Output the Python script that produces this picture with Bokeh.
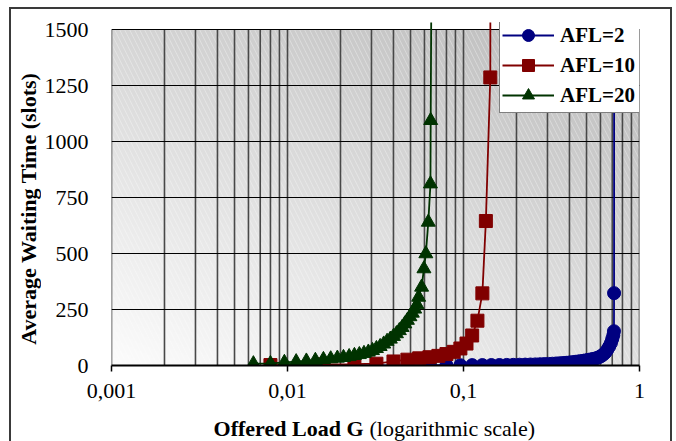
import json
import numpy as np
from bokeh.plotting import figure
from bokeh.layouts import column, row
from bokeh.models import (Range1d, FixedTicker, Legend, LegendItem,
                          CustomJSTickFormatter)
from bokeh.core.properties import value
from bokeh.embed import file_html
from bokeh.resources import INLINE

# ---------------- data ----------------
series_names = ["AFL=2", "AFL=10", "AFL=20"]

afl2_g = [0.016, 0.032, 0.048, 0.064, 0.080, 0.096, 0.112, 0.128, 0.144, 0.160,
          0.176, 0.192, 0.208, 0.224, 0.240, 0.256, 0.272, 0.288, 0.304, 0.320,
          0.336, 0.352, 0.368, 0.384, 0.400, 0.416, 0.432, 0.448, 0.464, 0.480,
          0.496, 0.512, 0.528, 0.544, 0.560, 0.576, 0.592, 0.608, 0.624, 0.640,
          0.656, 0.672, 0.688, 0.700, 0.710, 0.716, 0.717, 0.7175]
afl2_w = [0.3, 0.6, 0.9, 1.1, 1.3, 1.5, 1.7, 1.9, 2.1, 2.3,
          2.6, 3.0, 3.5, 4.0, 4.5, 5.0, 5.7, 6.4, 7.2, 8.0,
          9, 10, 11, 12, 13.5, 15, 16.5, 18, 19.5, 21,
          23, 25, 27, 29, 31, 34, 38, 43, 50, 58,
          70, 84, 100, 118, 135, 153, 323, 2600]

afl10_g = [0.008, 0.016, 0.024, 0.032, 0.040, 0.048, 0.056, 0.064, 0.072, 0.080,
           0.088, 0.096, 0.104, 0.112, 0.120, 0.128, 0.134, 0.142, 0.1425]
afl10_w = [2, 5, 6, 8, 18, 26, 32, 37, 43, 51,
           61, 76, 98, 134, 200, 322, 645, 1286, 2600]

afl20_g = [0.0064, 0.0080, 0.0096, 0.0112, 0.0128, 0.0144, 0.0160, 0.0176, 0.0192, 0.0208,
           0.0224, 0.0240, 0.0256, 0.0272, 0.0288, 0.0304, 0.0320, 0.0336, 0.0352, 0.0368,
           0.0384, 0.0400, 0.0416, 0.0432, 0.0448, 0.0464, 0.0480, 0.0496, 0.0512, 0.0528,
           0.0544, 0.0556, 0.0578, 0.0596, 0.0611, 0.0631, 0.0649, 0.0651, 0.0662]
afl20_w = [8, 9, 14, 17, 20, 23, 27, 30, 33, 36,
           40, 45, 49, 54, 60, 67, 76, 85, 96, 108,
           118, 130, 142, 156, 170, 186, 202, 218, 234, 252,
           272, 305, 350, 432, 499, 640, 811, 1094, 2200]

x_ticks = [0.001, 0.01, 0.1, 1]
x_tick_labels = ["0,001", "0,01", "0,1", "1"]
y_ticks = [0, 250, 500, 750, 1000, 1250, 1500]

x_title_bold = "Offered Load G"
x_title_normal = "(logarithmic scale)"
y_title = "Average Waiting Time (slots)"

# ---------------- styling constants ----------------
X_MIN, X_MAX = 0.001, 1.0
Y_MAX = 1500
Y_TOP = 1531.25          # lines run slightly past the 1500 line
SERIF = "Liberation Serif"
colors = ["#000080", "#800000", "#003300"]
markers = ["circle", "square", "triangle"]
msizes = [13, 13, 14]

MAIN_H = 402
YT_W = 30
XT_H = 30
TOTAL_W = 659

# ---------------- main chart ----------------
p = figure(width=TOTAL_W - YT_W, height=MAIN_H, x_axis_type="log",
           x_range=Range1d(X_MIN, X_MAX), y_range=Range1d(0, Y_TOP),
           output_backend="svg", toolbar_location=None,
           min_border_left=68, min_border_right=31, min_border_top=13,
           min_border_bottom=46, background_fill_color="white",
           border_fill_color="white", outline_line_color=None)

# gradient plot-area background
nx, ny = 240, 160
u = np.linspace(0, 1, nx)[None, :]
v = np.linspace(0, 1, ny)[:, None]
gray = (252 - 28 * u - 38 * v).astype(np.uint8)
img = np.empty((ny, nx), dtype=np.uint32)
view = img.view(dtype=np.uint8).reshape((ny, nx, 4))
view[..., 0] = gray
view[..., 1] = gray
view[..., 2] = gray
view[..., 3] = 255
p.image_rgba(image=[img], x=X_MIN, y=0, dw=X_MAX - X_MIN, dh=Y_MAX, level="image")
p.quad(left=[X_MIN], right=[X_MAX], bottom=[0], top=[Y_MAX], fill_alpha=0,
       line_alpha=0, hatch_pattern="\\", hatch_color="white", hatch_alpha=0.3,
       hatch_scale=10, hatch_weight=1, level="image")

# vertical log grid lines (stop at the 1500 line)
grid_x = [m * 10.0 ** e for e in (-3, -2, -1) for m in range(1, 10)] + [1.0]
p.segment(x0=grid_x, x1=grid_x, y0=0, y1=Y_MAX, line_color="#484848",
          line_width=1.6, level="underlay")
p.xgrid.visible = False
p.ygrid.ticker = FixedTicker(ticks=y_ticks)
p.ygrid.grid_line_color = "black"
p.ygrid.grid_line_width = 1

# axes
p.xaxis.ticker = FixedTicker(ticks=x_ticks)
p.xaxis.formatter = CustomJSTickFormatter(code=(
    "const t = %s; const l = %s; const i = t.indexOf(tick);"
    "return i >= 0 ? l[i] : String(tick);") % (json.dumps(x_ticks), json.dumps(x_tick_labels)))
p.xaxis.axis_line_color = "black"
p.xaxis.axis_line_width = 2
p.xaxis.major_tick_out = 6
p.xaxis.major_tick_in = 0
p.xaxis.major_tick_line_color = "black"
p.xaxis.major_tick_line_width = 1.5
p.xaxis.minor_tick_line_color = None
p.xaxis.major_label_standoff = 12

p.yaxis.ticker = FixedTicker(ticks=y_ticks)
p.yaxis.axis_line_color = None
p.yaxis.major_tick_line_color = None
p.yaxis.minor_tick_line_color = None
p.yaxis.major_label_standoff = 17

p.xaxis.major_label_text_font = SERIF
p.xaxis.major_label_text_font_size = "22px"
p.xaxis.major_label_text_color = "black"
p.yaxis.major_label_text_font = SERIF
p.yaxis.major_label_text_font_size = "22px"
p.yaxis.major_label_text_color = "black"

# series
items = []
for name, gx, wy, c, mk, ms in zip(series_names, [afl2_g, afl10_g, afl20_g],
                                   [afl2_w, afl10_w, afl20_w], colors, markers, msizes):
    ln = p.line(gx, wy, line_color=c, line_width=1.8)
    sc = p.scatter(gx, wy, marker=mk, size=ms, fill_color=c, line_color=c)
    items.append(LegendItem(label=name, renderers=[ln, sc]))

legend = Legend(items=items, location=(388, 252), margin=0, padding=2,
                spacing=-4, glyph_width=52, glyph_height=30, label_height=30,
                label_width=78, label_standoff=6,
                label_text_font=SERIF, label_text_font_style="bold",
                label_text_font_size="21px", label_text_color="black",
                border_line_color="black", border_line_width=1,
                background_fill_color="white", background_fill_alpha=1)
p.add_layout(legend)

# ---------------- y-axis title strip (left) ----------------
pyt = figure(width=YT_W, height=MAIN_H, x_range=Range1d(0, YT_W),
             y_range=Range1d(0, MAIN_H), output_backend="svg", toolbar_location=None,
             x_axis_location=None, y_axis_location=None, min_border=0,
             outline_line_color=None, background_fill_color="white",
             border_fill_color="white")
pyt.xgrid.visible = False
pyt.ygrid.visible = False
pyt.text(x=[17], y=[184], text=[y_title], angle=np.pi / 2, text_align="center",
         text_baseline="middle", text_font=value(SERIF), text_font_style="bold",
         text_font_size="22px", text_color="black")

# ---------------- x-axis title strip (bottom) ----------------
pxt = figure(width=TOTAL_W, height=XT_H, x_range=Range1d(0, TOTAL_W),
             y_range=Range1d(0, XT_H), output_backend="svg", toolbar_location=None,
             x_axis_location=None, y_axis_location=None, min_border=0,
             outline_line_color=None, background_fill_color="white",
             border_fill_color="white")
pxt.xgrid.visible = False
pxt.ygrid.visible = False
pxt.text(x=[352], y=[13], text=[x_title_bold], text_align="right",
         text_baseline="alphabetic", text_font=value(SERIF), text_font_style="bold",
         text_font_size="22px", text_color="black")
pxt.text(x=[358], y=[13], text=[x_title_normal], text_align="left",
         text_baseline="alphabetic", text_font=value(SERIF), text_font_style="normal",
         text_font_size="22px", text_color="black")

layout = column(row(pyt, p), pxt)
layout.margin = (9, 0, 0, 11)
layout.styles = {"outline": "2px solid #3a3a3a", "outline-offset": "0px"}

open("out.html", "w").write(file_html(layout, INLINE))
